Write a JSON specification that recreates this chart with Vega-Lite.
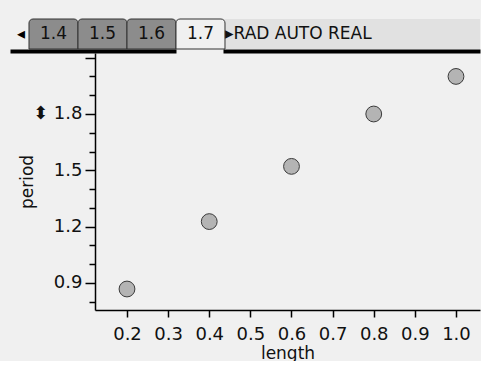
{
  "$schema": "https://vega.github.io/schema/vega-lite/v6.json",
  "background": "#f0f0f0",
  "padding": {"left": 16, "top": 18, "right": 0, "bottom": 0},
  "spacing": -3,
  "config": {"view": {"stroke": null}, "font": "DejaVu Sans"},
  "vconcat": [
    {
      "width": 385,
      "height": 30,
      "view": {"fill": "#e1e1e1", "stroke": null},
      "data": {"values": [
        {"tab": "1.4", "label": "1.4", "state": "inactive"},
        {"tab": "1.5", "label": "1.5", "state": "inactive"},
        {"tab": "1.6", "label": "1.6", "state": "inactive"},
        {"tab": "1.7", "label": "1.7", "state": "active"},
        {"tab": "status", "label": "▸RAD AUTO REAL", "state": "status"}
      ]},
      "encoding": {
        "x": {
          "field": "tab", "type": "nominal", "sort": null,
          "scale": {"domain": ["1.4", "1.5", "1.6", "1.7", "status", " ", "  ", "   ", "    "], "range": [-85, 385], "paddingInner": 0, "paddingOuter": 0.296, "align": 0.655},
          "axis": {"title": null, "labels": false, "ticks": false, "grid": false, "domain": true, "domainColor": "#000", "domainWidth": 4, "domainDash": [166, 47, 600], "offset": 2}
        }
      },
      "layer": [
        {
          "transform": [{"filter": "datum.state != 'status'"}],
          "mark": {"type": "rect", "stroke": "#333", "strokeWidth": 1, "cornerRadiusTopLeft": 4, "cornerRadiusTopRight": 4},
          "encoding": {"fill": {"field": "state", "type": "nominal", "scale": {"domain": ["inactive", "active"], "range": ["#8c8c8c", "#f0f0f0"]}, "legend": null}}
        },
        {
          "transform": [{"filter": "datum.state != 'status'"}],
          "mark": {"type": "text", "fontSize": 17, "color": "#111"},
          "encoding": {"text": {"field": "label"}}
        },
        {
          "transform": [{"filter": "datum.state == 'status'"}],
          "mark": {"type": "text", "fontSize": 17, "align": "left", "color": "#111"},
          "encoding": {"x": {"field": "tab", "type": "nominal", "bandPosition": 0}, "text": {"field": "label"}}
        },
        {
          "transform": [{"filter": "datum.tab == '1.4'"}],
          "mark": {"type": "text", "fontSize": 16, "align": "right", "color": "#000", "dx": -4},
          "encoding": {"x": {"field": "tab", "type": "nominal", "bandPosition": 0}, "text": {"value": "◂"}}
        }
      ]
    },
    {
      "width": 385,
      "height": 257,
      "data": {"values": [
        {"length": 0.2, "period": 0.868},
        {"length": 0.4, "period": 1.227},
        {"length": 0.6, "period": 1.521},
        {"length": 0.8, "period": 1.8},
        {"length": 1.0, "period": 2.0}
      ]},
      "mark": {"type": "point", "shape": "circle", "filled": true, "fill": "#b4b4b4", "stroke": "#3a3a3a", "strokeWidth": 1, "size": 250, "opacity": 1, "fillOpacity": 1, "strokeOpacity": 1},
      "encoding": {
        "x": {
          "field": "length", "type": "quantitative",
          "scale": {"domain": [0.1222, 1.0584], "nice": false, "zero": false},
          "axis": {"title": "length", "values": [0.2, 0.3, 0.4, 0.5, 0.6, 0.7, 0.8, 0.9, 1.0], "format": ".1f", "grid": false, "tickSize": 7, "tickColor": "#000", "tickWidth": 1.5, "domainColor": "#000", "domainWidth": 1.5, "labelFontSize": 18, "labelColor": "#111", "labelPadding": 8, "labelFlush": false, "labelOverlap": false, "titleFontSize": 17, "titleFontWeight": "normal", "titleColor": "#111", "titlePadding": 2}
        },
        "y": {
          "field": "period", "type": "quantitative",
          "scale": {"domain": [0.7562, 2.1248], "nice": false, "zero": false},
          "axis": {"title": "period", "values": [0.8, 0.9, 1.0, 1.1, 1.2, 1.3, 1.4, 1.5, 1.6, 1.7, 1.8, 1.9, 2.0, 2.1], "format": ".1f", "grid": false,
            "labelExpr": "indexof(['0.9','1.2','1.5'], datum.label) >= 0 ? datum.label : (datum.label == '1.8' ? '⬍ 1.8' : '')",
            "tickSize": {"condition": {"test": "indexof(['0.9','1.2','1.5','1.8','2.1'], format(datum.value, '.1f')) >= 0", "value": 10}, "value": 6},
            "tickColor": "#000", "tickWidth": 1.5, "domainColor": "#000", "domainWidth": 1.5, "labelFontSize": 18, "labelColor": "#111", "labelPadding": 3, "labelOverlap": false, "titleFontSize": 17, "titleFontWeight": "normal", "titleColor": "#111", "titlePadding": -4}
        }
      }
    }
  ]
}
